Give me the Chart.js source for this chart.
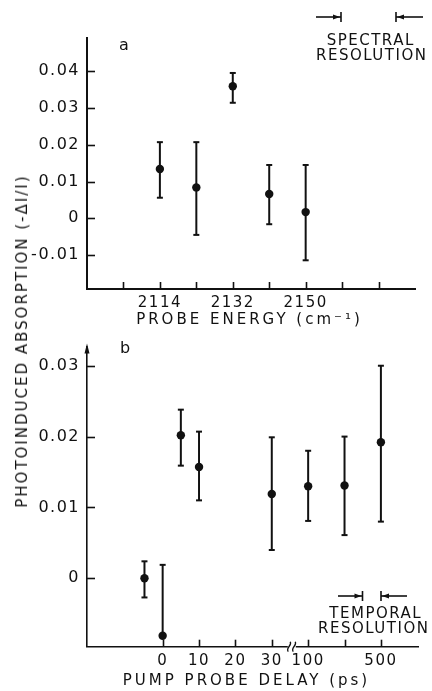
<!DOCTYPE html>
<html>
<head>
<meta charset="utf-8">
<script src="https://cdn.jsdelivr.net/npm/chart.js@4.4.0/dist/chart.umd.min.js"></script>
<style>
  html, body { margin: 0; padding: 0; background: #fff; }
  #page { position: relative; width: 432px; height: 691px; overflow: hidden; }
  #chartA { position: absolute; left: 0; top: 0; width: 432px; height: 340px; }
  #chartB { position: absolute; left: 0; top: 330px; width: 432px; height: 361px; }
  #ytitle {
    position: absolute; left: 22px; top: 341px;
    transform: translate(-50%, -50%) rotate(-90deg);
    white-space: nowrap; font: 15px "DejaVu Sans"; letter-spacing: 2px; color: #111;
  }
</style>
</head>
<body>
<div id="page">
  <canvas id="chartA" width="432" height="340"></canvas>
  <canvas id="chartB" width="432" height="361"></canvas>
  <div id="ytitle">PHOTOINDUCED ABSORPTION (-ΔI/I)</div>
</div>
<script>
// panel a: absorption vs probe energy
var energy = [2114, 2123, 2132, 2141, 2150];
var absorbA = [0.0134, 0.0084, 0.0359, 0.0066, 0.0017];
var absorbAHigh = [0.0207, 0.0207, 0.0395, 0.0145, 0.0145];
var absorbALow = [0.0056, -0.0045, 0.0314, -0.0016, -0.0114];
var energyTicks = [2105, 2114, 2123, 2132, 2141, 2150, 2159, 2168];
var energyLabels = [2114, 2132, 2150];
var absTicksA = [-0.01, 0, 0.01, 0.02, 0.03, 0.04];

// panel b: absorption vs pump probe delay (ps)
var delay = [-5, 0, 5, 10, 30, 100, 300, 500];
var absorbB = [0, -0.0081, 0.0202, 0.0157, 0.0119, 0.013, 0.0131, 0.0192];
var absorbBHigh = [0.0024, 0.0019, 0.0238, 0.0207, 0.0199, 0.018, 0.02, 0.03];
var absorbBLow = [-0.0027, -0.0083, 0.0159, 0.011, 0.004, 0.0081, 0.0061, 0.008];
var delayTicks = [0, 10, 20, 30, 100, 300, 500];
var delayTickLabels = ["0", "10", "20", "30", "100", "", "500"];
var absTicksB = [0, 0.01, 0.02, 0.03];

var INK = "#111";
var FONT = "DejaVu Sans";

// broken axis: 0-30 ps linear, then 100-500 ps on a coarser step
function delayToAxis(d) {
  if (d <= 30) return d / 10;
  return 4 + (d - 100) / 200;
}

function line(ctx, x1, y1, x2, y2) {
  ctx.beginPath();
  ctx.moveTo(x1, y1);
  ctx.lineTo(x2, y2);
  ctx.stroke();
}

function text(ctx, str, x, y, size, spacing) {
  ctx.save();
  ctx.font = size + "px " + FONT;
  ctx.fillStyle = INK;
  ctx.letterSpacing = spacing + "px";
  ctx.textAlign = "center";
  ctx.textBaseline = "middle";
  ctx.fillText(str, x + spacing / 2, y);
  ctx.restore();
}

// the little |<- ->| marks for the resolution
function resolutionMarks(ctx, xl0, xl1, xr0, xr1, y) {
  ctx.save();
  ctx.strokeStyle = INK;
  ctx.fillStyle = INK;
  ctx.lineWidth = 1.6;
  line(ctx, xl0, y, xl1, y);
  line(ctx, xl1, y - 5, xl1, y + 5);
  line(ctx, xr0, y, xr1, y);
  line(ctx, xr0, y - 5, xr0, y + 5);
  ctx.beginPath();
  ctx.moveTo(xl1 - 1, y);
  ctx.lineTo(xl1 - 8, y - 2.5);
  ctx.lineTo(xl1 - 8, y + 2.5);
  ctx.fill();
  ctx.beginPath();
  ctx.moveTo(xr0 + 1, y);
  ctx.lineTo(xr0 + 8, y - 2.5);
  ctx.lineTo(xr0 + 8, y + 2.5);
  ctx.fill();
  ctx.restore();
}

var errorBars = {
  id: "errorBars",
  beforeDraw: function (chart) {
    chart.ctx.letterSpacing = "1.5px";
  },
  beforeDatasetsDraw: function (chart) {
    var ctx = chart.ctx;
    var xs = chart.scales.x;
    var ys = chart.scales.y;
    ctx.save();
    ctx.letterSpacing = "0px";
    ctx.strokeStyle = INK;
    ctx.lineWidth = 2;
    chart.data.datasets.forEach(function (ds) {
      ds.data.forEach(function (p, i) {
        var px = xs.getPixelForValue(p.x);
        var top = ys.getPixelForValue(ds.errHigh[i]);
        var bot = ys.getPixelForValue(ds.errLow[i]);
        line(ctx, px, top, px, bot);
        line(ctx, px - 3, top, px + 3, top);
        line(ctx, px - 3, bot, px + 3, bot);
      });
    });
    ctx.restore();
  },
  afterDraw: function (chart) {
    // inward tick marks
    var ctx = chart.ctx;
    var a = chart.chartArea;
    var xs = chart.scales.x;
    var ys = chart.scales.y;
    ctx.save();
    ctx.strokeStyle = INK;
    ctx.lineWidth = 1.6;
    ys.ticks.forEach(function (t) {
      var py = Math.round(ys.getPixelForValue(t.value)) + 0.5;
      line(ctx, a.left, py, a.left + 8, py);
    });
    xs.ticks.forEach(function (t) {
      var px = Math.round(xs.getPixelForValue(t.value)) + 0.5;
      line(ctx, px, a.bottom, px, a.bottom - 7);
    });
    ctx.restore();
  }
};

function baseScales(yMin, yMax, yTicks, yWidth, xHeight) {
  return {
    y: {
      type: "linear",
      min: yMin,
      max: yMax,
      afterFit: function (s) { s.width = yWidth; },
      afterBuildTicks: function (s) {
        s.ticks = yTicks.map(function (v) { return { value: v }; });
      },
      grid: { display: false, drawTicks: false },
      border: { display: true, color: INK, width: 2 },
      ticks: {
        color: INK,
        padding: 7,
        font: { family: FONT, size: 16 },
        callback: function (v) { return v === 0 ? "0" : v.toFixed(2); }
      }
    },
    x: {
      type: "linear",
      afterFit: function (s) { s.height = xHeight; },
      grid: { display: false, drawTicks: false },
      border: { display: true, color: INK, width: 2 },
      ticks: {
        color: INK,
        padding: 5,
        autoSkip: false,
        maxRotation: 0,
        font: { family: FONT, size: 15 }
      }
    }
  };
}

// ---------- panel a ----------
var scalesA = baseScales(-0.0192, 0.049, absTicksA, 87, 51);
scalesA.x.min = 2096;
scalesA.x.max = 2177;
scalesA.x.afterBuildTicks = function (s) {
  s.ticks = energyTicks.map(function (v) { return { value: v }; });
};
scalesA.x.ticks.callback = function (v) {
  return energyLabels.indexOf(v) >= 0 ? String(v) : "";
};

var pointsA = [];
for (var i = 0; i < energy.length; i++) {
  pointsA.push({ x: energy[i], y: absorbA[i] });
}

new Chart(document.getElementById("chartA"), {
  type: "scatter",
  data: {
    datasets: [{
      data: pointsA,
      errHigh: absorbAHigh,
      errLow: absorbALow,
      pointRadius: 4.2,
      pointBackgroundColor: INK,
      pointBorderWidth: 0
    }]
  },
  options: {
    responsive: false,
    animation: false,
    layout: { padding: { top: 38, right: 17, left: 0, bottom: 0 } },
    plugins: { legend: { display: false }, tooltip: { enabled: false } },
    scales: scalesA
  },
  plugins: [errorBars, {
    id: "labelsA",
    afterDraw: function (chart) {
      var ctx = chart.ctx;
      text(ctx, "a", 124, 46, 16, 0);
      text(ctx, "PROBE ENERGY (cm\u207B\u00B9)", 248, 320, 15, 3);
      text(ctx, "SPECTRAL", 370, 41, 15, 1.5);
      text(ctx, "RESOLUTION", 371, 56.5, 15, 1.5);
      resolutionMarks(ctx, 316, 341, 396, 423, 17);
    }
  }]
});

// ---------- panel b ----------
var scalesB = baseScales(-0.00965, 0.0327, absTicksB, 87, 44.3);
scalesB.x.min = -2.08;
scalesB.x.max = 7.02;
scalesB.x.afterBuildTicks = function (s) {
  s.ticks = delayTicks.map(function (d) { return { value: delayToAxis(d) }; });
};
scalesB.x.ticks.callback = function (v, idx) {
  return delayTickLabels[idx];
};
scalesB.y.border.width = 1.6;
scalesB.x.border.width = 1.6;

var pointsB = [];
for (var j = 0; j < delay.length; j++) {
  pointsB.push({ x: delayToAxis(delay[j]), y: absorbB[j] });
}

new Chart(document.getElementById("chartB"), {
  type: "scatter",
  data: {
    datasets: [{
      data: pointsB,
      errHigh: absorbBHigh,
      errLow: absorbBLow,
      pointRadius: 4.2,
      pointBackgroundColor: INK,
      pointBorderWidth: 0
    }]
  },
  options: {
    responsive: false,
    animation: false,
    layout: { padding: { top: 12, right: 14, left: 0, bottom: 0 } },
    plugins: { legend: { display: false }, tooltip: { enabled: false } },
    scales: scalesB
  },
  plugins: [errorBars, {
    id: "labelsB",
    afterDraw: function (chart) {
      var ctx = chart.ctx;
      var a = chart.chartArea;
      var xs = chart.scales.x;
      // arrow head on top of the y axis
      ctx.save();
      ctx.fillStyle = INK;
      ctx.beginPath();
      ctx.moveTo(a.left, a.top - 3);
      ctx.lineTo(a.left - 2.5, a.top + 7);
      ctx.lineTo(a.left + 2.5, a.top + 7);
      ctx.fill();
      // axis break between 30 and 100 ps
      var bx = xs.getPixelForValue(3.55);
      ctx.fillStyle = "#fff";
      ctx.fillRect(bx - 4, a.bottom - 2, 8, 4);
      ctx.strokeStyle = INK;
      ctx.lineWidth = 1.3;
      [-2.5, 2.5].forEach(function (dx) {
        ctx.beginPath();
        ctx.moveTo(bx + dx - 1, a.bottom + 5);
        ctx.bezierCurveTo(bx + dx - 4, a.bottom + 1, bx + dx + 3, a.bottom - 1, bx + dx + 1, a.bottom - 5);
        ctx.stroke();
      });
      ctx.restore();
      text(ctx, "b", 125, 19, 16, 0);
      text(ctx, "PUMP PROBE DELAY (ps)", 245, 351.5, 15, 3);
      text(ctx, "TEMPORAL", 375, 284.5, 15, 1.5);
      text(ctx, "RESOLUTION", 373, 299.5, 15, 1.5);
      resolutionMarks(ctx, 338, 362.5, 381, 407, 266);
    }
  }]
});
</script>
</body>
</html>
